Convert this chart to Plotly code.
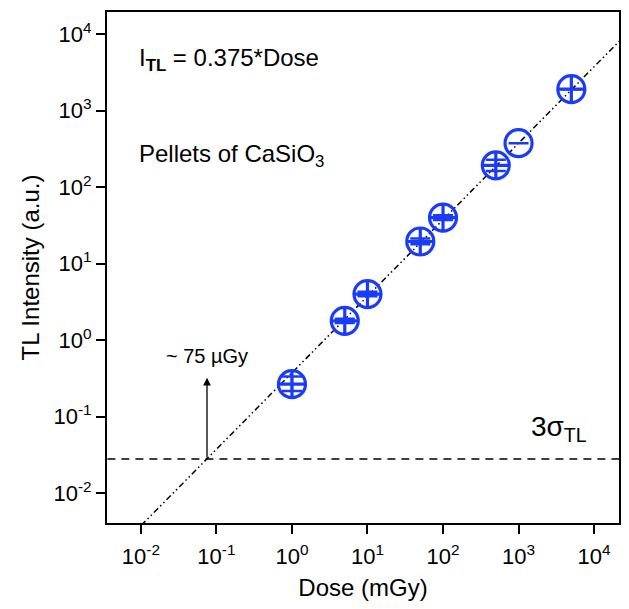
import numpy as np
import plotly.graph_objects as go

# ---- data ----
dose = [1, 5, 10, 50, 100, 500, 1000, 5000]               # mGy
intensity = [0.266, 1.79, 4.0, 19.5, 40, 193, 376, 1910]  # a.u.
err_plus = [0.07, 0.12, 0.28, 1.8, 3.0, 36, None, None]
err_minus = [0.05, 0.11, 0.26, 1.6, 2.7, 30, None, None]
symbols = ["circle-cross-open"] * 6 + ["circle-open", "circle-cross-open"]

fit_slope = 0.375
fit_dose = [0.001, 100000]
threshold = 0.028          # 3 sigma_TL
detect_limit = 0.075       # mGy (~75 uGy)

x_tickvals = [0.01, 0.1, 1, 10, 100, 1000, 10000]
x_ticktext = ["10<sup>-2</sup>", "10<sup>-1</sup>", "10<sup>0</sup>", "10<sup>1</sup>",
              "10<sup>2</sup>", "10<sup>3</sup>", "10<sup>4</sup>"]
y_tickvals = [0.01, 0.1, 1, 10, 100, 1000, 10000]
y_ticktext = x_ticktext

FONT = "Liberation Sans, Arial, sans-serif"
BLUE = "#1a3cfa"

fig = go.Figure()

# fit line
fig.add_trace(go.Scatter(
    x=fit_dose, y=[fit_slope * d for d in fit_dose], mode="lines",
    line=dict(color="black", width=1.5, dash="6px,3px,1.5px,3px,1.5px,3px"),
    showlegend=False, hoverinfo="skip"))

# threshold line
fig.add_trace(go.Scatter(
    x=[0.001, 100000], y=[threshold, threshold], mode="lines",
    line=dict(color="black", width=1.5, dash="8px,6px"),
    showlegend=False, hoverinfo="skip"))

# data
fig.add_trace(go.Scatter(
    x=dose, y=intensity, mode="markers",
    marker=dict(symbol=symbols, size=27, color=BLUE,
                line=dict(color=BLUE, width=3.2)),
    error_y=dict(type="data", symmetric=False, array=err_plus, arrayminus=err_minus,
                 color=BLUE, thickness=2.5, width=10),
    showlegend=False))

# arrow for detection limit
fig.add_annotation(x=np.log10(detect_limit), y=-0.49, xref="x", yref="y",
                   ax=np.log10(detect_limit), ay=np.log10(threshold),
                   axref="x", ayref="y", showarrow=True, arrowhead=2,
                   arrowsize=1.2, arrowwidth=1.3, arrowcolor="black", text="")
fig.add_annotation(x=np.log10(detect_limit), y=-0.21, xref="x", yref="y",
                   text="~ 75 µGy", showarrow=False, yanchor="middle",
                   font=dict(family=FONT, size=20, color="black"))

fig.add_annotation(xref="paper", yref="paper", x=0.825, y=0.185,
                   text="3σ<sub>TL</sub>", showarrow=False, xanchor="left", yanchor="middle",
                   font=dict(family=FONT, size=28, color="black"))
fig.add_annotation(xref="paper", yref="paper", x=0.058, y=0.907,
                   text="I<sub><b>TL</b></sub> = 0.375*Dose", showarrow=False,
                   xanchor="left", yanchor="middle",
                   font=dict(family=FONT, size=24, color="black"))
fig.add_annotation(xref="paper", yref="paper", x=0.058, y=0.72,
                   text="Pellets of CaSiO<sub>3</sub>", showarrow=False,
                   xanchor="left", yanchor="middle",
                   font=dict(family=FONT, size=24, color="black"))

axis_common = dict(showline=True, linecolor="black", linewidth=2, mirror=True,
                   ticks="outside", ticklen=9, tickwidth=1.5, tickcolor="black",
                   showgrid=False, zeroline=False,
                   tickfont=dict(family=FONT, size=22, color="black"))

fig.update_xaxes(type="log", range=[-2.449, 4.33], tickvals=x_tickvals, ticktext=x_ticktext,
                 ticklabelstandoff=4,
                 title=dict(text="Dose (mGy)", font=dict(family=FONT, size=24, color="black"),
                            standoff=11),
                 **axis_common)
fig.update_yaxes(type="log", range=[-2.39, 4.29], tickvals=y_tickvals, ticktext=y_ticktext,
                 title=dict(text="TL Intensity (a.u.)", font=dict(family=FONT, size=24, color="black"),
                            standoff=7),
                 **axis_common)

fig.update_layout(width=629, height=609, margin=dict(l=107, r=8, t=12, b=86),
                  plot_bgcolor="white", paper_bgcolor="white",
                  font=dict(family=FONT, color="black"))

fig.write_html("out.html")
